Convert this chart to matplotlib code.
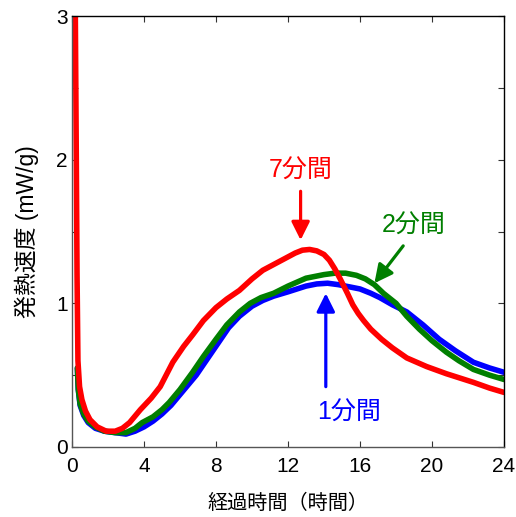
import matplotlib
matplotlib.use("Agg")
import matplotlib.pyplot as plt
from matplotlib.ticker import MultipleLocator

plt.rcParams['font.family'] = ['Liberation Sans', 'Noto Sans CJK JP', 'DejaVu Sans']

# 7分間 (red)
t7 = [0.18, 0.24, 0.28, 0.33, 0.42, 0.55, 0.75, 1.0, 1.4, 1.9, 2.4, 2.8, 3.2, 3.8, 4.4, 4.9, 5.6, 6.2, 6.7,
      7.3, 8.0, 8.6, 9.3, 10.0, 10.6, 11.2, 11.8, 12.4, 12.8, 13.2, 13.6, 14.0, 14.3, 14.6, 14.9, 15.3, 15.6,
      15.9, 16.2, 16.6, 17.2, 17.8, 18.6, 19.7, 20.8, 22.3, 23.2, 24.0]
v7 = [3.1, 2.0, 1.2, 0.6, 0.42, 0.33, 0.25, 0.19, 0.14, 0.11, 0.11, 0.13, 0.17, 0.26, 0.34, 0.42, 0.59, 0.70, 0.78,
      0.88, 0.97, 1.03, 1.09, 1.17, 1.23, 1.27, 1.31, 1.35, 1.37, 1.375, 1.365, 1.34, 1.30, 1.24, 1.17, 1.07, 0.99,
      0.93, 0.88, 0.82, 0.75, 0.69, 0.62, 0.56, 0.51, 0.45, 0.41, 0.38]

# 2分間 (green)
t2 = [0.3, 0.35, 0.45, 0.65, 0.9, 1.3, 1.8, 2.4, 3.0, 3.5, 3.9, 4.5, 5.0, 5.4, 6.0, 6.7, 7.3,
      8.0, 8.6, 9.3, 9.9, 10.5, 11.2, 12.0, 13.0, 14.0, 14.6, 15.2, 15.8, 16.3, 16.8, 17.3, 18.0, 18.6,
      19.3, 20.0, 20.8, 21.5, 22.3, 23.2, 24.0]
v2 = [0.55, 0.40, 0.30, 0.23, 0.18, 0.14, 0.11, 0.10, 0.10, 0.13, 0.17, 0.21, 0.26, 0.31, 0.40, 0.52, 0.63,
      0.75, 0.85, 0.94, 1.0, 1.04, 1.07, 1.12, 1.175, 1.20, 1.21, 1.21, 1.195, 1.17, 1.13, 1.07, 1.0, 0.91,
      0.82, 0.74, 0.66, 0.60, 0.54, 0.50, 0.47]

# 1分間 (blue)
t1 = [0.3, 0.35, 0.45, 0.65, 0.9, 1.3, 1.8, 2.4, 3.0, 3.5, 4.0, 4.5, 5.0, 5.5, 6.1, 6.9, 7.5,
      8.1, 8.7, 9.3, 10.0, 10.6, 11.2, 12.0, 13.0, 13.6, 14.2, 14.8, 15.4, 16.0, 16.6, 17.1, 17.8, 18.6,
      19.5, 20.4, 21.3, 22.3, 23.2, 24.0]
v1 = [0.55, 0.40, 0.29, 0.22, 0.17, 0.13, 0.11, 0.10, 0.09, 0.11, 0.14, 0.18, 0.23, 0.29, 0.38, 0.50, 0.61,
      0.72, 0.83, 0.91, 0.98, 1.02, 1.05, 1.08, 1.12, 1.135, 1.14, 1.13, 1.115, 1.10, 1.07, 1.04, 0.99, 0.94,
      0.85, 0.75, 0.67, 0.59, 0.55, 0.52]

x_ticks = [0, 4, 8, 12, 16, 20, 24]
y_ticks = [0, 1, 2, 3]

fig = plt.figure(figsize=(5.16, 5.17), dpi=100)
ax = fig.add_axes([72/516, 70/517, 432/516, 431/517])

lw = 4.0
ax.plot(t1, v1, color='#0000ff', lw=lw, solid_joinstyle='round', solid_capstyle='round')
ax.plot(t2, v2, color='#007f00', lw=lw, solid_joinstyle='round', solid_capstyle='round')
ax.plot(t7, v7, color='#ff0000', lw=lw, solid_joinstyle='round', solid_capstyle='round')

ax.set_xlim(0, 24)
ax.set_ylim(0, 3)
ax.set_xticks(x_ticks)
ax.set_yticks(y_ticks)
ax.yaxis.set_minor_locator(MultipleLocator(0.5))
ax.tick_params(which='both', direction='in', top=True, right=True, length=4.5, width=0.8,
               labelsize=15, color='#333333')
ax.tick_params(axis='x', pad=7)
ax.tick_params(axis='y', pad=3)
for s in ['left', 'bottom']:
    ax.spines[s].set_color('#555555')
for s in ['top', 'right']:
    ax.spines[s].set_color('black')
for s in ax.spines.values():
    s.set_linewidth(1.0)

ax.set_xlabel('経過時間（時間）', fontsize=14.5, labelpad=13)
ax.set_ylabel('発熱速度 (mW/g)', fontsize=16.5, labelpad=12)

arrow_kw = dict(arrowstyle='-|>,head_length=1.1,head_width=0.55', lw=2.3, shrinkA=0, shrinkB=0,
                mutation_scale=10)

ax.annotate('', xy=(12.7, 1.44), xytext=(12.7, 1.78),
            arrowprops=dict(color='#ff0000', **arrow_kw))
ax.text(12.7, 1.92, '7分間', color='#ff0000', fontsize=18, ha='center', va='center')

ax.annotate('', xy=(16.8, 1.14), xytext=(18.4, 1.40),
            arrowprops=dict(color='#007f00', **arrow_kw))
ax.text(19.0, 1.54, '2分間', color='#007f00', fontsize=18, ha='center', va='center')

ax.annotate('', xy=(14.1, 1.07), xytext=(14.1, 0.42),
            arrowprops=dict(color='#0000ff', **arrow_kw))
ax.text(15.4, 0.24, '1分間', color='#0000ff', fontsize=18, ha='center', va='center')

fig.savefig('out.png', dpi=100)
